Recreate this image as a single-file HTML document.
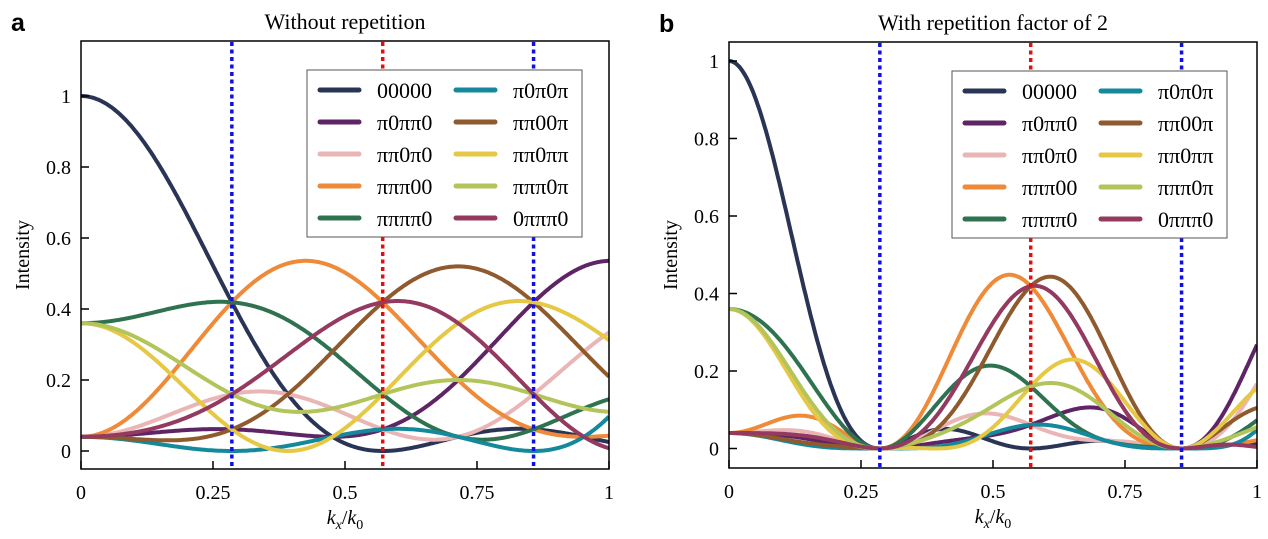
<!DOCTYPE html>
<html><head><meta charset="utf-8"><style>
html,body{margin:0;padding:0;background:#fff;}
svg{display:block;}
</style></head><body>
<svg id="s" width="1268" height="539" xmlns="http://www.w3.org/2000/svg" font-family="Liberation Serif, serif"></svg>
<script>
const S=document.getElementById('s');
const cols=['#2a3556','#5e2466','#eab5b5','#ee8a38','#2e7250','#14899b','#8e5a2e','#e6c845','#b3c55a','#94395f'];
const names=['00000','π0ππ0','ππ0π0','πππ00','ππππ0','π0π0π','ππ00π','ππ0ππ','πππ0π','0πππ0'];
let h='';
function panel(o){
 const {x0,x1,top,bot,y0,y1,rep,ticks,title,lab,lx,ly}=o;
 const X=v=>x0+v*(x1-x0), Y=v=>y0+v*(y1-y0);
 h+=`<defs><clipPath id="c${rep}"><rect x="${x0}" y="${top}" width="${x1-x0}" height="${bot-top}"/></clipPath></defs>`;
 h+=`<g clip-path="url(#c${rep})">`;
 names.forEach((nm,i)=>{
  let ph=[];for(let r=0;r<rep;r++){for(const ch of nm)ph.push(ch==='π'?Math.PI:0);}
  const N=ph.length;let d='';
  for(let k=0;k<=400;k++){const kx=k/400;const u=kx*0.7*Math.PI;let re=0,im=0;
   for(let n=0;n<N;n++){re+=Math.cos(ph[n]+n*u);im+=Math.sin(ph[n]+n*u);}
   const I=(re*re+im*im)/(N*N);d+=(k?'L':'M')+X(kx).toFixed(1)+','+Y(I).toFixed(1);}
  h+=`<path d="${d}" fill="none" stroke="${cols[i]}" stroke-width="4" stroke-linejoin="round"/>`;
 });
 h+='</g>';
 [[2/7,'#1010e0'],[4/7,'#e01010'],[6/7,'#1010e0']].forEach(([v,c])=>{h+=`<line x1="${X(v)}" x2="${X(v)}" y1="${top+1}" y2="${bot}" stroke="${c}" stroke-width="3.5" stroke-dasharray="4,3.5"/>`;});
 h+=`<rect x="${x0}" y="${top}" width="${x1-x0}" height="${bot-top}" fill="none" stroke="#000" stroke-width="1.5"/>`;
 ['0','0.25','0.5','0.75','1'].forEach((t,i)=>{const x=X(i/4);h+=`<line x1="${x}" x2="${x}" y1="${bot}" y2="${bot-8}" stroke="#000" stroke-width="1.5"/><text x="${x}" y="${bot+30}" font-size="20" text-anchor="middle">${t}</text>`;});
 ticks.forEach(t=>{const y=Y(t);h+=`<line x1="${x0}" x2="${x0+8}" y1="${y}" y2="${y}" stroke="#000" stroke-width="1.5"/><text x="${x0-10}" y="${y+7}" font-size="20" text-anchor="end">${t}</text>`;});
 h+=`<text x="${(x0+x1)/2}" y="${bot+55}" font-size="20" text-anchor="middle"><tspan font-style="italic">k</tspan><tspan font-style="italic" font-size="14" dy="5">x</tspan><tspan dy="-5">/</tspan><tspan font-style="italic">k</tspan><tspan font-size="14" dy="5">0</tspan></text>`;
 h+=`<text transform="translate(${x0-52},${(top+bot)/2}) rotate(-90)" font-size="20" text-anchor="middle">Intensity</text>`;
 h+=`<text x="${(x0+x1)/2}" y="${top-12}" font-size="22" text-anchor="middle">${title}</text>`;
 h+=`<text x="${x0-70}" y="${top-10}" font-size="25" font-weight="bold" font-family="Liberation Sans, sans-serif">${lab}</text>`;
 h+=`<rect x="${lx}" y="${ly}" width="275" height="167" fill="#fff" stroke="#555" stroke-width="1"/>`;
 names.forEach((nm,i)=>{const c=Math.floor(i/5),r=i%5;const bx=lx+13+c*136,by=ly+20+r*32;
  h+=`<line x1="${bx}" x2="${bx+39}" y1="${by}" y2="${by}" stroke="${cols[i]}" stroke-width="5" stroke-linecap="round"/><text x="${bx+57}" y="${by+8}" font-size="22">${nm}</text>`;});
}
panel({x0:81,x1:609,top:41,bot:469,y0:451,y1:96,rep:1,ticks:[0,0.2,0.4,0.6,0.8,1],title:'Without repetition',lab:'a',lx:307,ly:70});
panel({x0:729,x1:1257,top:42,bot:468,y0:448.5,y1:61,rep:2,ticks:[0,0.2,0.4,0.6,0.8,1],title:'With repetition factor of 2',lab:'b',lx:952,ly:71});
S.innerHTML=h;
</script>
</body></html>
